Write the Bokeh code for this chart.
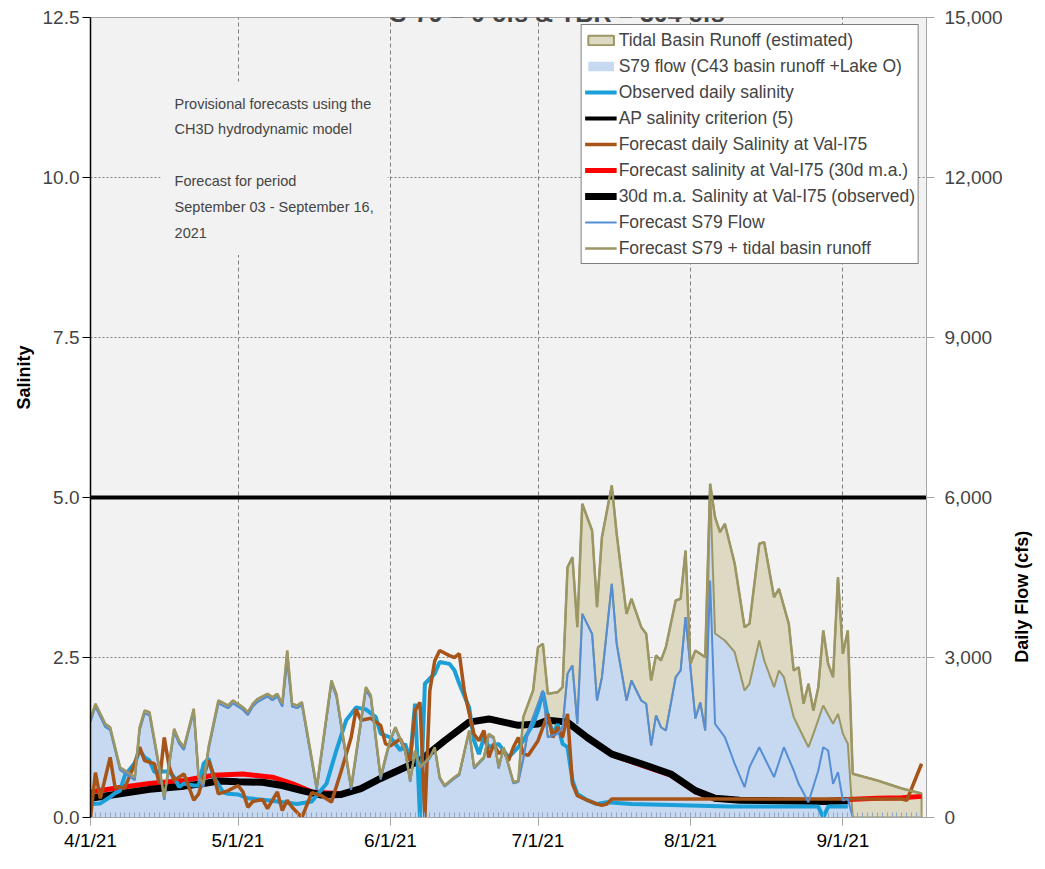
import math
import pandas as pd
from bokeh.plotting import figure
from bokeh.models import (Range1d, LinearAxis, FixedTicker, ColumnDataSource, Legend,
                          LegendItem, Label, Title, NumeralTickFormatter, PrintfTickFormatter)
from bokeh.embed import file_html
from bokeh.resources import INLINE

YEAR = 2021

def to_dt(md):
    return pd.to_datetime([f"{s}/{YEAR}" for s in md], format="%m/%d/%Y")

# ---------------- data ----------------
# Forecast S79 + tidal basin runoff (top of the stacked area), cfs
total_dates = ["4/1","4/2","4/4","4/5","4/6","4/7","4/9","4/10","4/11","4/12","4/13","4/15","4/16",
               "4/18","4/19","4/20","4/22","4/23","4/24","4/25","4/27","4/29","4/30","5/2","5/3",
               "5/4","5/5","5/7","5/8","5/9","5/10","5/11","5/12","5/13","5/14","5/17","5/20","5/21",
               "5/24","5/27","5/28","5/30","5/31","6/1","6/2","6/4","6/5","6/6","6/7","6/9","6/10",
               "6/11","6/12","6/14","6/15","6/17","6/18","6/20","6/21","6/22","6/23","6/24","6/26",
               "6/27","6/28","6/30","7/1","7/2","7/3","7/5","7/6","7/7","7/8","7/9","7/10","7/12",
               "7/13","7/14","7/16","7/17","7/19","7/20","7/22","7/23","7/24","7/25","7/26","7/27",
               "7/29","7/30","7/31","8/1","8/2","8/3","8/4","8/5","8/6","8/7","8/8","8/10","8/12",
               "8/13","8/15","8/16","8/18","8/19","8/21","8/22","8/23","8/24","8/25","8/26","8/27",
               "8/28","8/29","8/30","8/31","9/1","9/2","9/3","9/8","9/13","9/17"]
total_flow = [1851,2132,1757,1693,1318,943,819,756,1693,2006,1974,943,381,
              1663,1444,1318,2038,756,632,1318,2194,2100,2194,2068,1974,
              2132,2226,2319,2256,2319,2132,3131,2132,2100,2162,568,2569,2319,
              568,2443,2288,756,1131,1476,1693,1256,694,1256,943,1131,1318,
              756,600,756,819,1631,943,1131,1569,1506,943,1318,662,
              694,1881,2381,3193,3257,2319,2349,2443,4693,4881,3568,5882,5381,
              3943,5256,6225,5319,3819,4101,3568,3444,2569,3038,2944,3193,
              4069,4101,5006,2882,3131,3069,3006,6257,5631,5349,5507,4757,3568,
              3632,5132,5162,4131,4288,3632,2756,2818,2132,2507,2006,2443,
              3506,2882,2631,4506,3069,3506,819,694,544,450]

# S79 flow, spring (area top and forecast line coincide), cfs
spring_dates = total_dates[:64]
spring_s79 = [1800,2080,1700,1640,1270,890,770,700,1640,1950,1920,890,330,
              1610,1390,1270,1990,700,580,1270,2140,2050,2140,2020,1920,
              2080,2170,2270,2200,2270,2080,2950,2080,2050,2110,520,2520,2270,
              520,2390,2240,710,1090,1450,1670,1230,670,1230,920,1110,1300,
              730,580,730,800,1610,920,1110,1550,1480,920,1300,640,670]

# Forecast S79 flow line, summer, cfs
summer_dates = ["6/28","6/29","7/1","7/2","7/3","7/5","7/6","7/7","7/8","7/9","7/10","7/12","7/13",
                "7/14","7/16","7/17","7/19","7/20","7/22","7/23","7/24","7/25","7/26","7/27","7/29",
                "7/30","7/31","8/2","8/3","8/4","8/5","8/6","8/8","8/10","8/12","8/13","8/15","8/18",
                "8/20","8/22","8/23","8/25","8/27","8/28","8/29","8/30","8/31","9/1","9/2","9/3"]
summer_fc_s79 = [1100,1631,2132,2381,1506,1569,1693,2694,2850,1757,3819,3444,2194,
                 2631,4382,3257,2194,2569,2194,2132,1350,1913,1693,1631,2631,
                 2756,3756,1856,2156,1631,4444,1757,1506,1007,568,943,1318,756,
                 1318,881,632,287,881,1318,1256,632,850,319,351,0]

# S79 flow area top in August (lower edge of the tidal basin runoff band), cfs
aug_dates = ["8/5","8/6","8/8","8/10","8/12","8/13","8/15","8/16","8/18","8/19","8/20","8/22",
             "8/23","8/25","8/26","8/28","8/30","8/31","9/1","9/2","9/3"]
aug_s79 = [6200,3450,3319,3100,2381,2507,3319,2944,2443,2756,2631,1881,
           1693,1318,1569,2100,1757,1944,1569,1382,0]

# Observed daily salinity
obs_dates = ["4/1","4/3","4/5","4/6","4/7","4/8","4/10","4/11","4/12","4/13","4/14","4/15","4/17",
             "4/18","4/19","4/20","4/22","4/23","4/24","4/25","4/26","4/28","4/29","5/1","5/3",
             "5/7","5/13","5/16","5/19","5/21","5/23","5/25","5/27","5/29","5/30","6/1","6/3",
             "6/4","6/5","6/6","6/7","6/8","6/10","6/11","6/13","6/14","6/15","6/17","6/18",
             "6/19","6/20","6/21","6/23","6/25","6/27","6/28","6/30","7/1","7/2","7/3","7/4",
             "7/5","7/6","7/7","7/8","7/9","7/11","7/13","7/15","7/20","7/30","8/9","8/27",
             "8/28","8/29","9/2"]
obs_sal = [0.21,0.22,0.32,0.38,0.42,0.66,0.85,1.05,0.94,0.89,0.71,0.72,0.72,
           0.63,0.48,0.53,0.50,0.50,0.84,0.92,0.64,0.39,0.37,0.36,0.30,
           0.27,0.21,0.25,0.53,1.05,1.52,1.72,1.69,1.57,1.31,1.25,1.05,
           1.15,0.89,1.78,0.0,2.09,2.25,2.43,2.40,2.30,2.09,1.72,1.20,
           0.99,1.25,1.10,1.15,0.94,1.10,1.20,1.46,1.67,1.96,1.57,1.31,
           1.46,1.15,1.10,0.58,0.37,0.27,0.21,0.24,0.21,0.19,0.17,0.17,
           0.0,0.17,0.17]

# Forecast daily salinity at Val-I75
fcd_dates = ["4/1","4/2","4/3","4/5","4/6","4/8","4/10","4/11","4/12","4/14","4/15","4/16","4/17",
             "4/18","4/20","4/22","4/23","4/25","4/26","4/27","4/29","5/1","5/2","5/3","5/4",
             "5/6","5/7","5/8","5/9","5/10","5/11","5/12","5/14","5/16","5/18","5/20","5/22",
             "5/24","5/25","5/26","5/28","5/30","5/31","6/1","6/3","6/4","6/5","6/6","6/7",
             "6/8","6/9","6/10","6/11","6/13","6/14","6/15","6/16","6/17","6/18","6/19","6/20",
             "6/21","6/22","6/23","6/24","6/25","6/26","6/27","6/28","6/29","7/1","7/3","7/4",
             "7/5","7/6","7/7","7/8","7/9","7/11","7/13","7/14","7/15","7/16","9/13","9/14","9/17"]
fcd_sal = [0.0,0.70,0.30,0.94,0.47,0.47,0.84,1.10,0.89,0.84,0.53,1.25,0.79,
           0.58,0.68,0.27,0.37,0.89,0.68,0.37,0.42,0.50,0.40,0.16,0.25,
           0.28,0.14,0.27,0.40,0.11,0.27,0.16,0.0,0.39,0.34,0.24,0.73,
           1.25,1.69,1.52,1.55,1.44,1.15,1.12,1.23,1.05,0.89,1.67,1.80,
           0.0,1.98,2.45,2.61,2.53,2.50,2.56,1.98,1.63,1.30,1.20,1.36,
           0.94,1.15,1.00,1.05,0.89,1.10,1.25,1.00,0.97,1.20,1.62,1.25,
           1.41,1.25,1.62,0.53,0.34,0.27,0.21,0.19,0.21,0.29,0.29,0.27,0.84]

# Forecast salinity at Val-I75 (30d moving average)
fma_dates = ["4/1","4/7","4/13","4/20","4/26","5/2","5/8","5/12","5/16","5/22","5/26","5/30","6/3",
             "6/7","6/12","6/17","6/21","6/24","6/27","7/1","7/3","7/7","7/11","7/16","7/22",
             "7/28","8/2","8/6","8/11","8/28","9/2","9/8","9/13","9/17"]
fma_sal = [0.40,0.47,0.53,0.58,0.66,0.68,0.63,0.53,0.40,0.37,0.46,0.62,0.76,
           0.90,1.20,1.49,1.54,1.49,1.44,1.46,1.52,1.49,1.24,0.98,0.82,
           0.66,0.40,0.29,0.27,0.26,0.28,0.30,0.31,0.33]

# 30d m.a. salinity at Val-I75 (observed)
oma_dates = ["4/1","4/7","4/13","4/20","4/24","4/27","5/1","5/6","5/10","5/14","5/18","5/22","5/26",
             "5/30","6/3","6/7","6/12","6/17","6/21","6/24","6/27","7/1","7/3","7/7","7/11",
             "7/16","7/22","7/28","8/2","8/6","8/11","8/28","9/2"]
oma_sal = [0.30,0.37,0.44,0.49,0.53,0.57,0.56,0.55,0.50,0.42,0.35,0.36,0.45,
           0.61,0.75,0.89,1.20,1.49,1.54,1.49,1.44,1.46,1.52,1.49,1.25,
           0.99,0.84,0.68,0.42,0.30,0.27,0.25,0.26]

# AP salinity criterion
crit_dates = ["4/1", "9/18"]
crit_sal = [5.0, 5.0]

x_tick_dates = ["4/1", "5/1", "6/1", "7/1", "8/1", "9/1"]
x_tick_labels = ["4/1/21", "5/1/21", "6/1/21", "7/1/21", "8/1/21", "9/1/21"]
sal_ticks = [0, 2.5, 5.0, 7.5, 10.0, 12.5]
flow_ticks = [0, 3000, 6000, 9000, 12000, 15000]

title_text = "S-79 = 0 cfs & TBR = 304 cfs"
left_title = "Salinity"
right_title = "Daily Flow (cfs)"
note_text = ("Provisional forecasts using the\nCH3D hydrodynamic model\n\n"
             "Forecast for period\nSeptember 03 - September 16,\n2021")

# ---------------- build sources ----------------
s79_area_dates = spring_dates + summer_dates[:30] + aug_dates
s79_area_vals = spring_s79 + summer_fc_s79[:30] + aug_s79
fc_line_dates = spring_dates + summer_dates
fc_line_vals = spring_s79 + summer_fc_s79

t_x = list(to_dt(total_dates))
src_total = ColumnDataSource(dict(x=t_x, y=total_flow))
src_tan = ColumnDataSource(dict(x=t_x + t_x[::-1], y=total_flow + [0] * len(total_flow)))
src_s79 = ColumnDataSource(dict(x=to_dt(s79_area_dates), y=s79_area_vals, z=[0] * len(s79_area_vals)))
src_fc = ColumnDataSource(dict(x=to_dt(fc_line_dates), y=fc_line_vals))

FONT = "Liberation Sans"

x0 = pd.Timestamp(f"{YEAR}-04-01")
x1 = pd.Timestamp(f"{YEAR}-09-18")

p = figure(width=1045, height=855, x_axis_type="datetime", output_backend="svg",
           toolbar_location=None, x_range=Range1d(x0, x1), y_range=Range1d(0, 12.5),
           min_border_left=90, min_border_right=119, min_border_top=17, min_border_bottom=38,
           background_fill_color="#f2f2f2", border_fill_color="white")
p.outline_line_color = "#a6a6a6"
p.extra_y_ranges = {"flow": Range1d(0, 15000)}

# areas
tan = p.patch("x", "y", source=src_tan, y_range_name="flow", fill_color="#ddd9c3",
              line_color="#9b9664", line_width=2)
blue_area = p.varea(x="x", y1="z", y2="y", source=src_s79, y_range_name="flow",
                    fill_color="#c6d9f1")
p.line("x", "y", source=src_s79, y_range_name="flow", line_color="#9b9664", line_width=2)

# salinity lines
crit = p.line(to_dt(crit_dates), crit_sal, line_color="black", line_width=4)
red = p.line(to_dt(fma_dates), fma_sal, line_color="#ff0000", line_width=5)
blk = p.line(to_dt(oma_dates), oma_sal, line_color="black", line_width=7)
cyan = p.line(to_dt(obs_dates), obs_sal, line_color="#1b9fd8", line_width=4)
brown = p.line(to_dt(fcd_dates), fcd_sal, line_color="#a75418", line_width=3.5)

# flow lines
fc_line = p.line("x", "y", source=src_fc, y_range_name="flow", line_color="#558ed5", line_width=2)
olive = p.line("x", "y", source=src_total, y_range_name="flow", line_color="#9b9664", line_width=2.5)

# ---------------- axes ----------------
ms = lambda ts: ts.value // 10**6
xt = [ms(t) for t in to_dt(x_tick_dates)]
minor = [ms(t) for t in pd.date_range(x0, x1, freq="D")]
xa = p.xaxis[0]
xa.ticker = FixedTicker(ticks=xt, minor_ticks=minor)
xa.major_label_overrides = {int(t): lab for t, lab in zip(xt, x_tick_labels)}
xa.major_tick_in = 0
xa.major_tick_out = 8
xa.minor_tick_in = 5
xa.minor_tick_out = 0
xa.minor_tick_line_color = "#8fa6c4"
xa.major_tick_line_color = "#a6a6a6"
xa.axis_line_color = "#a6a6a6"
xa.major_label_text_font = FONT
xa.major_label_text_font_size = "19px"
xa.major_label_text_color = "black"
xa.major_label_standoff = 4

ya = p.yaxis[0]
ya.ticker = FixedTicker(ticks=sal_ticks)
ya.formatter = PrintfTickFormatter(format="%.1f")
ya.major_tick_in = 0
ya.major_tick_out = 8
ya.minor_tick_line_color = None
ya.axis_line_color = "black"
ya.axis_line_width = 1.5
ya.major_tick_line_color = "black"
ya.major_label_text_font = FONT
ya.major_label_text_font_size = "19px"
ya.major_label_standoff = 3

ra = LinearAxis(y_range_name="flow", ticker=FixedTicker(ticks=flow_ticks),
                formatter=NumeralTickFormatter(format="0,0"))
ra.major_tick_in = 0
ra.major_tick_out = 8
ra.minor_tick_line_color = None
ra.axis_line_color = "#a6a6a6"
ra.major_tick_line_color = "#a6a6a6"
ra.major_label_text_font = FONT
ra.major_label_text_font_size = "19px"
ra.major_label_standoff = 10
p.add_layout(ra, "right")

# right-hand axis title: an extra label-only axis so it reads bottom-to-top below centre
rt_anchor = 2900  # flow level where the title text starts (bottom end)
rt = LinearAxis(y_range_name="flow", ticker=FixedTicker(ticks=[rt_anchor]),
                major_label_overrides={rt_anchor: right_title},
                major_label_orientation=math.pi / 2)
rt.axis_line_color = None
rt.major_tick_line_color = None
rt.minor_tick_line_color = None
rt.major_tick_out = 0
rt.major_tick_in = 0
rt.major_label_standoff = 17
rt.major_label_text_font = FONT
rt.major_label_text_font_style = "bold"
rt.major_label_text_font_size = "18px"
rt.major_label_text_color = "black"
p.add_layout(rt, "right")

# left-hand axis title (top end placed 328 px below the frame top)
p.add_layout(Title(text=left_title, align="right", offset=328, text_font=FONT,
                   text_font_style="bold", text_font_size="18px", text_color="black",
                   standoff=12), "left")

p.xgrid.ticker = FixedTicker(ticks=xt)
p.xgrid.grid_line_color = "#808080"
p.xgrid.grid_line_dash = "4 3"
p.ygrid.ticker = FixedTicker(ticks=sal_ticks)
p.ygrid.grid_line_color = "#808080"
p.ygrid.grid_line_dash = "2 2"

# ---------------- legend ----------------
legend = Legend(items=[
    LegendItem(label="Tidal Basin Runoff (estimated)", renderers=[tan]),
    LegendItem(label="S79 flow (C43 basin runoff +Lake O)", renderers=[blue_area]),
    LegendItem(label="Observed daily salinity", renderers=[cyan]),
    LegendItem(label="AP salinity criterion (5)", renderers=[crit]),
    LegendItem(label="Forecast daily Salinity at Val-I75", renderers=[brown]),
    LegendItem(label="Forecast salinity at Val-I75 (30d m.a.)", renderers=[red]),
    LegendItem(label="30d m.a. Salinity at Val-I75 (observed)", renderers=[blk]),
    LegendItem(label="Forecast S79 Flow", renderers=[fc_line]),
    LegendItem(label="Forecast S79 + tidal basin runoff", renderers=[olive]),
], location="top_right")
legend.margin = 7
legend.padding = 3
legend.spacing = 2
legend.label_height = 24
legend.glyph_height = 12
legend.glyph_width = 32
legend.label_standoff = 2
legend.label_text_font = FONT
legend.label_text_font_size = "17.5px"
legend.border_line_color = "black"
legend.border_line_width = 1
legend.background_fill_color = "white"
legend.background_fill_alpha = 1
p.add_layout(legend)

# ---------------- texts ----------------
note = Label(x=pd.Timestamp(f"{YEAR}-04-15 06:00"), y=11.5, text=note_text,
             text_font=FONT, text_font_size="14.5px", text_line_height=1.62,
             text_baseline="top", text_align="left", padding=14,
             background_fill_color="#f2f2f2", background_fill_alpha=1)
p.add_layout(note)

title = Label(x=pd.Timestamp(f"{YEAR}-07-04 22:00"), y=12.578, text=title_text,
              text_font=FONT, text_font_style="bold", text_font_size="25px",
              text_align="center", text_baseline="alphabetic")
p.add_layout(title)

open("out.html", "w").write(file_html(p, INLINE))
